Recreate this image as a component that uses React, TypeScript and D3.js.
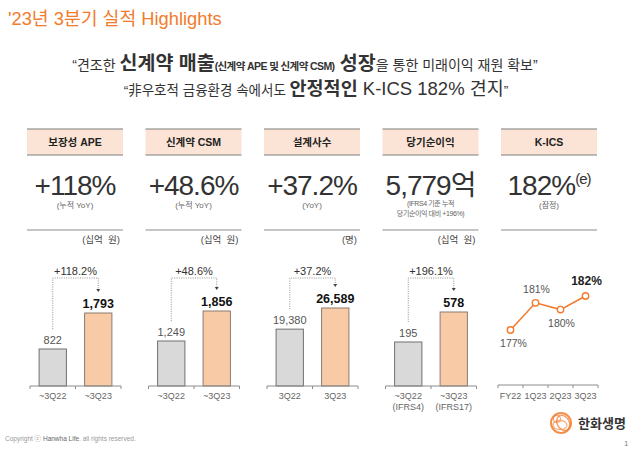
import React from 'react';
import * as d3 from 'd3';

const titleText = "'23년 3분기 실적 Highlights";
const panelTitles = ['보장성 APE', '신계약 CSM', '설계사수', '당기순이익', 'K-ICS'];
const bigValues = ['+118%', '+48.6%', '+37.2%', '5,779억', '182%'];
const subNotes = [['(누적 YoY)'], ['(누적 YoY)'], ['(YoY)'], ['(IFRS4 기준 누적', '당기순이익 대비 +196%)'], ['(잠정)']];
const unitLabels = ['(십억  원)', '(십억  원)', '(명)', '(십억  원)', ''];

const barCategories = [
  ['~3Q22', '~3Q23'],
  ['~3Q22', '~3Q23'],
  ['3Q22', '3Q23'],
  ['~3Q22\n(IFRS4)', '~3Q23\n(IFRS17)'],
];
const barPrev = [822, 1249, 19380, 195];
const barCurr = [1793, 1856, 26589, 578];
const growthLabels = ['+118.2%', '+48.6%', '+37.2%', '+196.1%'];
// value axis floor of each bar panel (the source chart does not start at zero)
const barAxisFloor = [-176, 338, 0, -367];

const kicsQuarters = ['FY22', '1Q23', '2Q23', '3Q23'];
const kicsValues = [177, 181, 180, 182];

const FONT = "'Liberation Sans', Arial, 'Noto Sans CJK KR', sans-serif";
const ORANGE = '#f27b2c';

export default function App() {
  const panelX = d3.scaleLinear().domain([0, 4]).range([27, 501]);
  const panelW = 96;
  const axisY = 386;
  const barH = [73, 75, 78, 74];

  return (
    <svg width={640} height={453} style={{ position: 'absolute', left: 0, top: 0, background: '#fff' }} fontFamily={FONT}>
      <text x={8} y={25} fontSize={18.3} fill={ORANGE}>{titleText}</text>

      <text x={305} y={70} textAnchor="middle" fill="#333">
        <tspan fontSize={14}>“견조한 </tspan>
        <tspan fontSize={19.5} fontWeight="bold">신계약 매출</tspan>
        <tspan fontSize={10.5} fontWeight="bold" letterSpacing={-0.6}>(신계약 APE 및 신계약 CSM)</tspan>
        <tspan fontSize={19.5} fontWeight="bold"> 성장</tspan>
        <tspan fontSize={14}>을 통한 미래이익 재원 확보”</tspan>
      </text>
      <text x={316} y={95} textAnchor="middle" fill="#333">
        <tspan fontSize={13.5}>“非우호적 금융환경 속에서도 </tspan>
        <tspan fontSize={18.5} fontWeight="bold">안정적인</tspan>
        <tspan fontSize={18.5}> K-ICS 182% 견지</tspan>
        <tspan fontSize={13.5}>”</tspan>
      </text>

      {panelTitles.map((t, i) => {
        const x0 = panelX(i);
        return (
          <g key={'p' + i}>
            <rect x={x0} y={129} width={panelW} height={26} fill="#fbe4d5" />
            <line x1={x0} x2={x0 + panelW} y1={129} y2={129} stroke="#7f7f7f" strokeWidth={1.2} />
            <line x1={x0} x2={x0 + panelW} y1={155} y2={155} stroke="#7f7f7f" strokeWidth={1.2} />
            <text x={x0 + panelW / 2} y={146} textAnchor="middle" fontSize={10.5} fontWeight="bold" fill="#222">{t}</text>
            <text x={x0 + panelW / 2} y={195} textAnchor="middle" fontSize={28} fill="#333" letterSpacing={-1}>
              {bigValues[i]}
              {i === 4 && <tspan fontSize={15} dy={-11}>(e)</tspan>}
            </text>
            {subNotes[i].map((s, j) => (
              <text key={j} x={x0 + panelW / 2} y={subNotes[i].length > 1 ? 206 + j * 9.5 : 208} textAnchor="middle"
                fontSize={subNotes[i].length > 1 ? 7 : 8} fill="#666" letterSpacing={subNotes[i].length > 1 ? -0.4 : 0}>{s}</text>
            ))}
            <line x1={x0} x2={x0 + panelW} y1={230} y2={230} stroke="#8c8c8c" strokeWidth={1.2} />
            {unitLabels[i] && <text x={x0 + panelW - 3} y={243} textAnchor="end" fontSize={9.5} fill="#444" style={{ whiteSpace: 'pre' }}>{unitLabels[i]}</text>}
          </g>
        );
      })}

      {barPrev.map((pv, i) => {
        const x0 = panelX(i) + 3;
        const x1 = x0 + 91;
        const cats = barCategories[i];
        const xb = d3.scaleBand<string>().domain(cats).range([x0, x1]).paddingInner(0.4).paddingOuter(0.2);
        const y = d3.scaleLinear().domain([barAxisFloor[i], barCurr[i]]).range([axisY, axisY - barH[i]]);
        const vals = [pv, barCurr[i]];
        const cPrev = xb(cats[0])! + xb.bandwidth() / 2;
        const cCurr = xb(cats[1])! + xb.bandwidth() / 2;
        const yPrevTop = y(pv);
        const yCurrTop = y(barCurr[i]);
        const conTop = 278;
        const path = `M${cPrev},${yPrevTop - 20}V${conTop}H${cCurr}V${yCurrTop - 24}`;
        const tip = yCurrTop - 21;
        return (
          <g key={'b' + i}>
            {vals.map((v, j) => (
              <rect key={j} x={xb(cats[j])} y={y(v)} width={xb.bandwidth()} height={axisY - y(v)}
                fill={j === 0 ? '#d9d9d9' : '#f8cba6'} stroke={j === 0 ? '#707070' : '#8a7a70'} strokeWidth={1} />
            ))}
            <line x1={x0} x2={x1} y1={axisY} y2={axisY} stroke="#8c8c8c" strokeWidth={1} />
            {[x0, (x0 + x1) / 2, x1].map((tx, k) => (
              <line key={k} x1={tx} x2={tx} y1={axisY} y2={axisY + 3} stroke="#8c8c8c" strokeWidth={1} />
            ))}
            <text x={cPrev} y={yPrevTop - 5} textAnchor="middle" fontSize={11} fill="#555">{d3.format(',')(pv)}</text>
            <text x={cCurr} y={yCurrTop - 5} textAnchor="middle" fontSize={12.5} fontWeight="bold" fill="#111">{d3.format(',')(barCurr[i])}</text>
            <path d={path} fill="none" stroke="#777" strokeWidth={0.8} strokeDasharray="1,1.3" />
            <path d={`M${cCurr - 2},${tip - 3}L${cCurr + 2},${tip - 3}L${cCurr},${tip}Z`} fill="#444" />
            <text x={(x0 + x1) / 2} y={275} textAnchor="middle" fontSize={11} fill="#333">{growthLabels[i]}</text>
            {cats.map((c, j) => {
              const cx = xb(c)! + xb.bandwidth() / 2;
              return c.split('\n').map((ln, k) => (
                <text key={j + '-' + k} x={cx} y={399 + k * 11} textAnchor="middle" fontSize={9} fill="#666">{ln}</text>
              ));
            })}
          </g>
        );
      })}

      {(() => {
        const x = d3.scalePoint<string>().domain(kicsQuarters).range([498, 598]).padding(0.5);
        const y = d3.scaleLinear().domain([177, 182]).range([330, 296]);
        const line = d3.line<number>().x((_, i) => x(kicsQuarters[i])!).y(d => y(d));
        const step = x.step();
        const labelOffsets = [17, -10, 17, -11];
        return (
          <g>
            <line x1={498} x2={598} y1={385} y2={385} stroke="#8c8c8c" strokeWidth={1} />
            {d3.range(5).map(k => (
              <line key={k} x1={498 + k * step} x2={498 + k * step} y1={385} y2={388} stroke="#8c8c8c" />
            ))}
            <path d={line(kicsValues)!} fill="none" stroke={ORANGE} strokeWidth={1.6} />
            {kicsValues.map((v, i) => (
              <g key={i}>
                <circle cx={x(kicsQuarters[i])} cy={y(v)} r={3.2} fill="#fff" stroke={ORANGE} strokeWidth={1.4} />
                <text x={x(kicsQuarters[i])! + (i === 0 ? 3 : 1)} y={y(v) + labelOffsets[i]} textAnchor="middle"
                  fontSize={i === 3 ? 12 : 10.5} fontWeight={i === 3 ? 'bold' : 'normal'} fill={i === 3 ? '#222' : '#555'}>{v}%</text>
                <text x={x(kicsQuarters[i])} y={399} textAnchor="middle" fontSize={9} fill="#666">{kicsQuarters[i]}</text>
              </g>
            ))}
          </g>
        );
      })()}

      <text x={5} y={441} fontSize={6.5} fill="#999">Copyright ⓒ <tspan fill="#666">Hanwha Life</tspan>. all rights reserved.</text>
      <g transform="translate(561,423)" fill="none" stroke={ORANGE}>
        <circle r={10} strokeWidth={2} opacity={0.85} />
        <ellipse cx={2} cy={1} rx={6} ry={8} strokeWidth={1.5} opacity={0.7} transform="rotate(-30)" />
        <ellipse cx={-1} cy={2} rx={7} ry={4.5} strokeWidth={1.3} opacity={0.6} />
        <circle cx={-4} cy={-4} r={3.5} strokeWidth={1.2} opacity={0.6} />
      </g>
      <text x={578} y={428} fontSize={13} fontWeight="bold" fill="#333">한화생명</text>
      <text x={624} y={446} fontSize={8} fill="#888">1</text>
    </svg>
  );
}
